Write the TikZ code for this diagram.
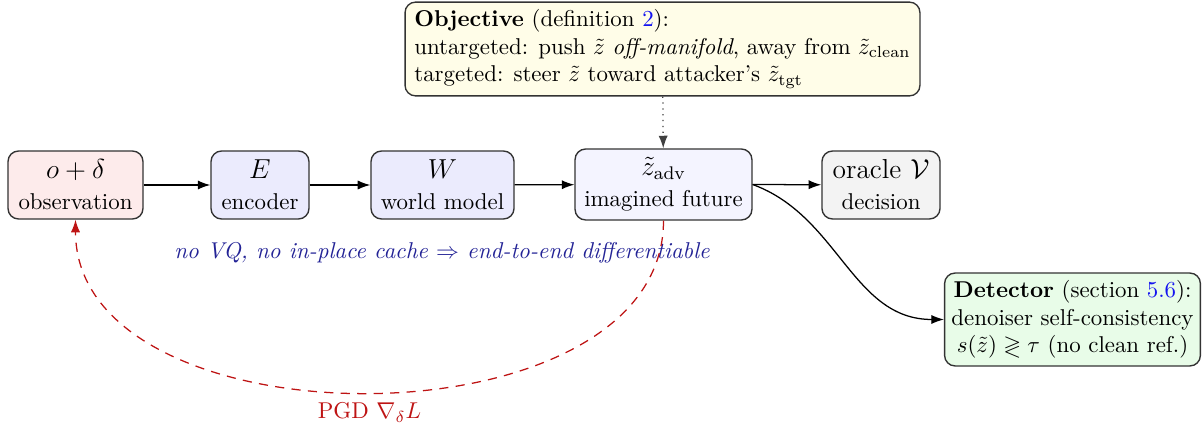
\documentclass[tikz,border=0pt]{standalone}
\usepackage{amsmath,amssymb}
\usetikzlibrary{arrows.meta}
\definecolor{obsfill}{RGB}{253,235,235}
\definecolor{modfill}{RGB}{235,235,253}
\definecolor{latfill}{RGB}{244,244,255}
\definecolor{orafill}{RGB}{243,243,243}
\definecolor{objfill}{RGB}{255,253,232}
\definecolor{detfill}{RGB}{232,252,232}
\definecolor{notecol}{RGB}{35,35,150}
\definecolor{pgdred}{RGB}{190,20,20}
\definecolor{refblue}{RGB}{20,20,240}
\begin{document}
\begin{tikzpicture}[x=0.437pt,y=0.437pt,
  box/.style={draw=black!80, rounded corners=4.6pt, align=center, inner sep=3pt, line width=0.6pt},
  flow/.style={-{Latex[length=5.5pt,width=4pt]}, line width=0.55pt},
  gradflow/.style={-{Latex[length=5.5pt,width=4pt]}, pgdred, line width=0.55pt, dash pattern=on 4pt off 3.2pt},
  objflow/.style={-{Latex[length=5.5pt,width=4pt]}, black!75, line width=0.55pt, dotted}]
\useasboundingbox (0,0) rectangle (1202,423);

% main pipeline
\node[box, fill=obsfill, minimum width=59pt, minimum height=29.7pt] (obs) at (75.5,238)
  {{\large $o+\delta$}\\[1.5pt] observation};
\node[box, fill=modfill, minimum width=42.8pt, minimum height=29.7pt] (enc) at (260,238)
  {{\large $E$}\\[1.5pt] encoder};
\node[box, fill=modfill, minimum width=62.5pt, minimum height=29.7pt] (wm) at (442.5,238)
  {{\large $W$}\\[1.5pt] world model};
\node[box, fill=latfill, minimum width=77.3pt, minimum height=31pt] (z) at (663.5,238.5)
  {{\large $\tilde z_{\text{adv}}$}\\[1.5pt] imagined future};
\node[box, fill=orafill, minimum width=51.6pt, minimum height=29.7pt] (ora) at (881,238)
  {{\large oracle $\mathcal{V}$}\\[1.5pt] decision};

% objective and detector
\node[box, fill=objfill, align=left, minimum width=225pt, minimum height=41pt] (obj) at (662.5,374)
  {\textbf{Objective} (definition \textcolor{refblue}{2}):\\
   untargeted: push $\tilde z$ \emph{off-manifold}, away from $\tilde z_{\text{clean}}$\\
   targeted: steer $\tilde z$ toward attacker's $\tilde z_{\text{tgt}}$};
\node[box, fill=detfill, minimum width=110.6pt, minimum height=40.6pt] (det) at (1072.5,103.5)
  {\textbf{Detector} (section \textcolor{refblue}{5.6}):\\
   denoiser self-consistency\\
   $s(\tilde z)\gtrless\tau$ (no clean ref.)};

% differentiability note
\node[text=notecol, font=\itshape] (note) at (442,170)
  {no VQ, no in-place cache $\Rightarrow$ end-to-end differentiable};

% connectors
\draw[flow] (obs) -- (enc);
\draw[flow] (enc) -- (wm);
\draw[flow] (wm) -- (z);
\draw[flow] (z.east) -- (ora);
\draw[objflow] (obj) -- (z);
\draw[flow] (z.east) to[out=-20,in=180] (det.west);
\draw[gradflow] (z.south) to[out=-90,in=-90,looseness=1]
  node[pos=0.5, below=1pt, text=pgdred, solid] (pgd) {PGD $\nabla_\delta L$} (obs.south);
\end{tikzpicture}
\end{document}
